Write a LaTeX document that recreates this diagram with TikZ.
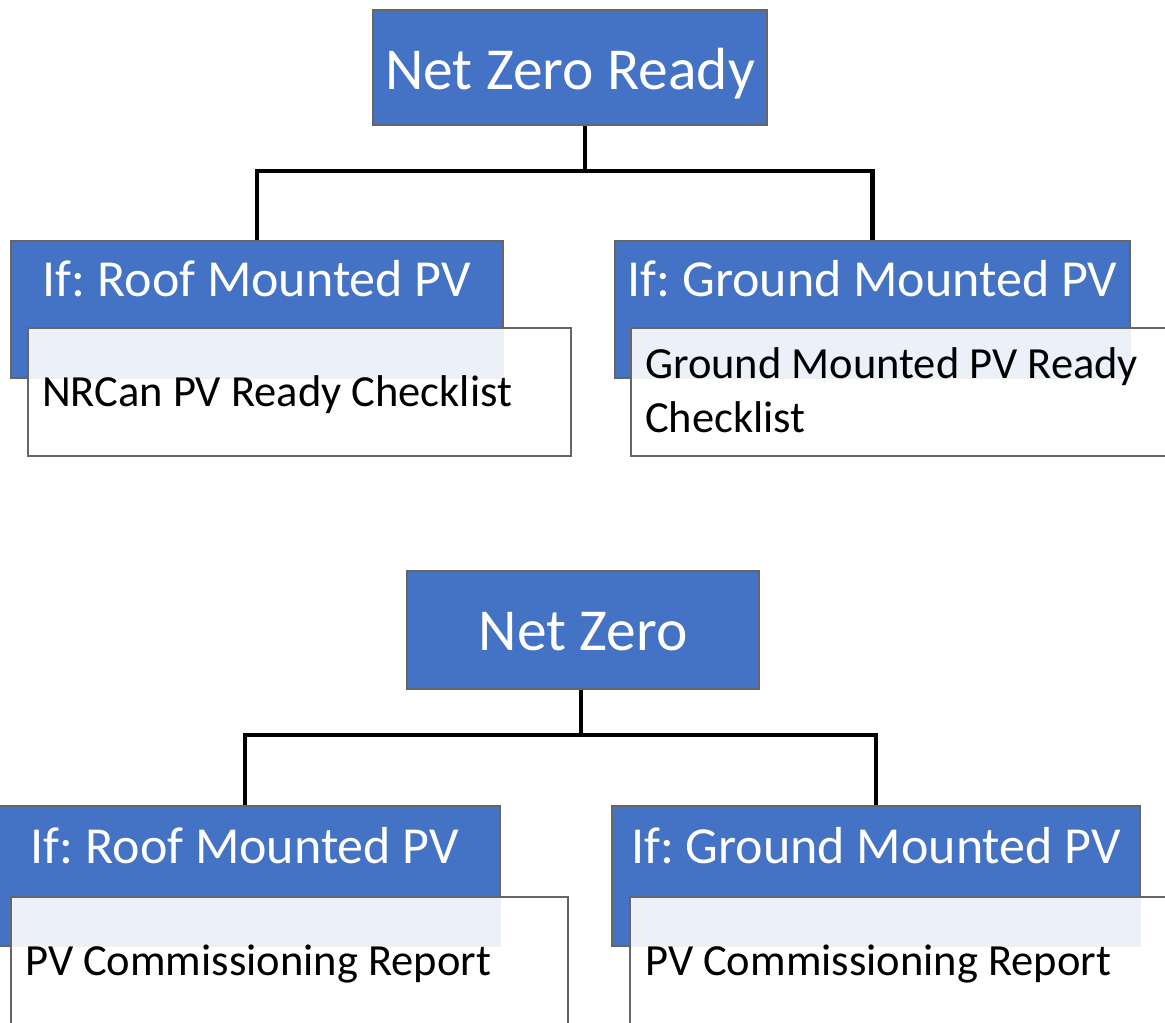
\documentclass[tikz,border=0pt]{standalone}
\usepackage{fontspec}
\setmainfont{Carlito}
\frenchspacing
\usetikzlibrary{positioning}
\definecolor{smartblue}{HTML}{4472C4}
\definecolor{edgegray}{HTML}{666666}
\tikzset{
  topbox/.style={draw=edgegray, line width=2pt, fill=smartblue, text=white,
    inner sep=0pt, anchor=north west, font=\fontsize{59.5}{72}\selectfont},
  casebox/.style={topbox, font=\fontsize{52}{62}\selectfont,
    text height=55pt, text depth=82pt},
  docbox/.style={draw=edgegray, line width=2pt, fill=white, fill opacity=0.9,
    draw opacity=1, inner sep=0pt, anchor=north west, minimum height=128pt},
  doctext/.style={anchor=base west, inner sep=0pt, align=left,
    font=\fontsize{44.5}{54}\selectfont},
  link/.style={line width=4.5pt, draw=black},
}

\begin{document}
\begin{tikzpicture}[x=1pt, y=-1pt]
  \useasboundingbox[clip] (0,0) rectangle (1165,1023);

  % upper chart
  \node[topbox, minimum width=394pt, text height=79pt, text depth=36pt] (nzr) at (372,9) {Net Zero Ready};
  \node[casebox, minimum width=492pt] (roofa) at (10,240) {If: Roof Mounted PV};
  \node[casebox, minimum width=515pt] (grounda) at (614,240) {If: Ground Mounted PV};
  \node[docbox, minimum width=543pt] (roofadoc) at (27,327) {};
  \node[docbox, minimum width=543pt] (groundadoc) at (630,327) {};
  \node[doctext] (roofatext) at ([shift={(15,79)}]roofadoc.north west) {NRCan PV Ready Checklist};
  % base of a two-line node is its last line
  \node[doctext] (groundatext) at ([shift={(15,105)}]groundadoc.north west) {Ground Mounted PV Ready\\Checklist};

  \coordinate (nzrbus) at (585,171);
  \draw[link] (nzr.south -| nzrbus) -- (nzrbus);
  \draw[link] (roofa.north) |- (nzrbus);
  \draw[link] (grounda.north) |- (nzrbus);

  % lower chart
  \node[topbox, minimum width=352pt, text height=79pt, text depth=39pt] (nz) at (406,570) {Net Zero};
  \node[casebox, minimum width=510pt, text height=57pt, text depth=83pt] (roofb) at (-11,805) {If: Roof Mounted PV};
  \node[casebox, minimum width=528pt, text height=57pt, text depth=83pt] (groundb) at (611,805) {If: Ground Mounted PV};
  \node[docbox, minimum width=557pt] (roofbdoc) at (10,896) {};
  \node[docbox, minimum width=557pt] (groundbdoc) at (629,896) {};
  \node[doctext] (roofbtext) at ([shift={(15,79)}]roofbdoc.north west) {PV Commissioning Report};
  \node[doctext] (groundbtext) at ([shift={(16,79)}]groundbdoc.north west) {PV Commissioning Report};

  \coordinate (nzbus) at (581,735);
  \draw[link] (nz.south -| nzbus) -- (nzbus);
  \draw[link] (roofb.north) |- (nzbus);
  \draw[link] (groundb.north) |- (nzbus);
\end{tikzpicture}
\end{document}
